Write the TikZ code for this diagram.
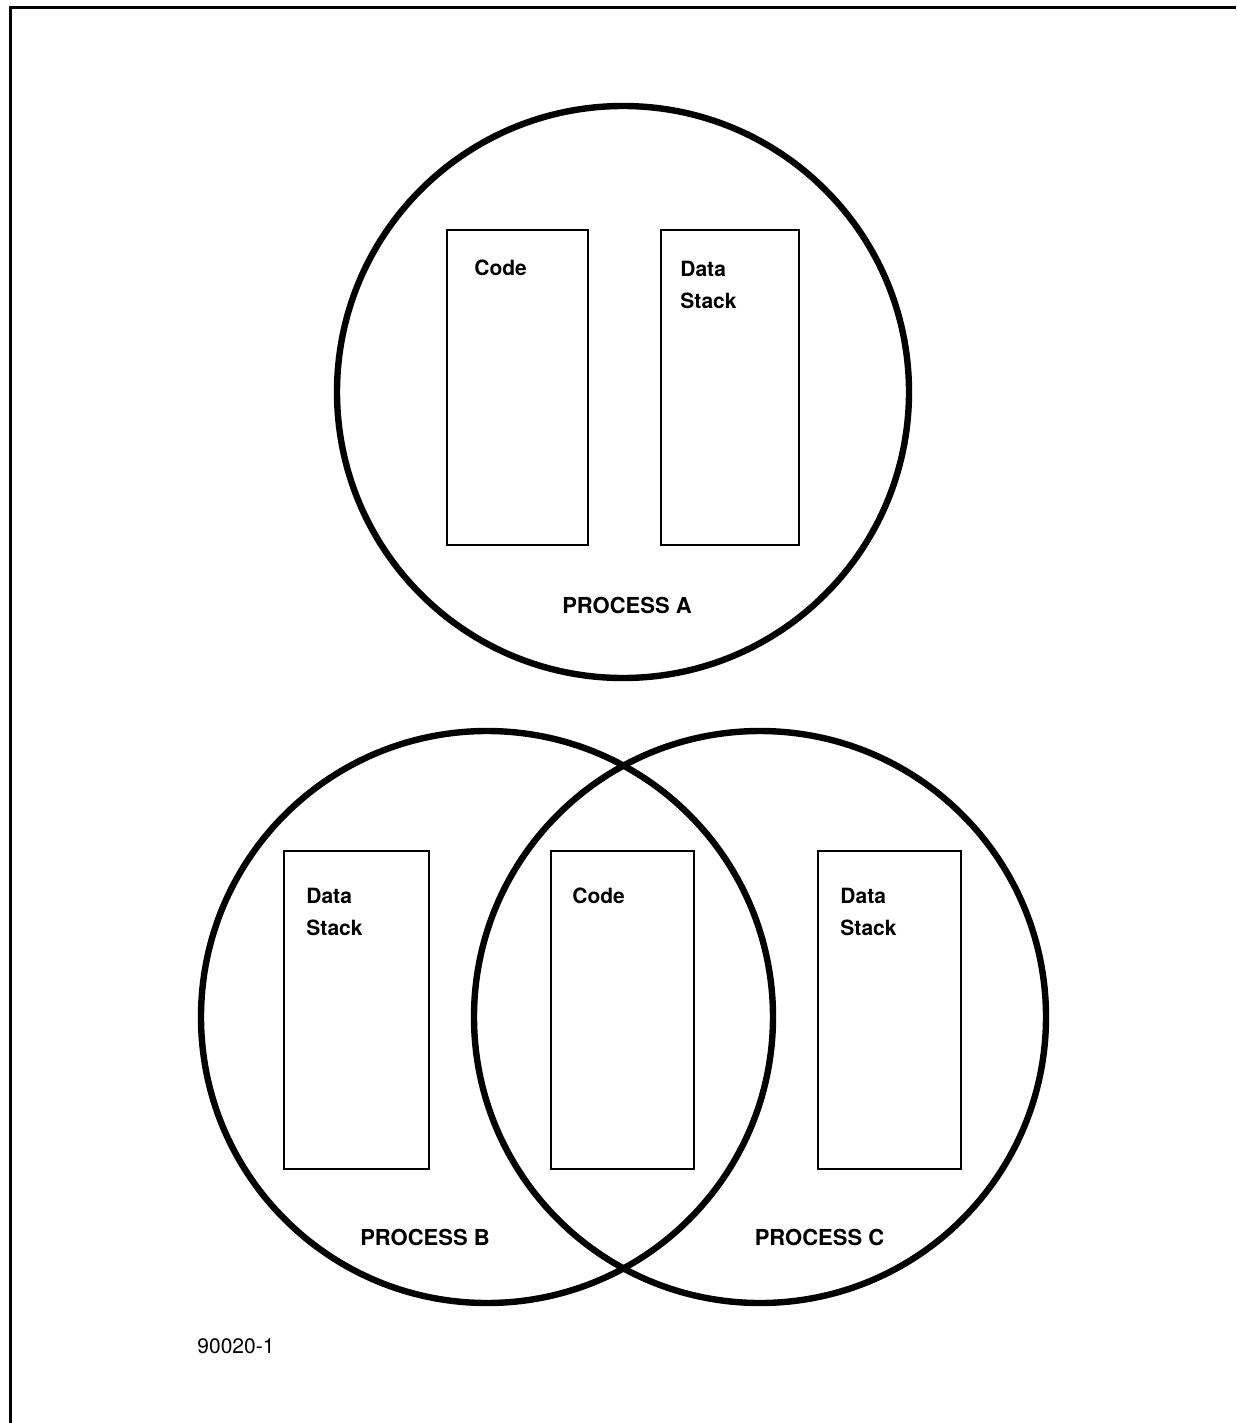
\documentclass[tikz,border=0pt]{standalone}
\usepackage{fontspec}
\setmainfont{TeX Gyre Heros}
\usepackage{tikz}
\usetikzlibrary{positioning}

\begin{document}
\begin{tikzpicture}[x=0.5pt,y=-0.5pt,
    proc/.style={draw,circle,line width=3.2pt,minimum size=286pt,inner sep=0pt},
    seg/.style={draw,rectangle,line width=1pt,inner sep=0pt},
    lbl/.style={font=\bfseries\fontsize{10.5}{16}\selectfont,inner sep=0pt,align=left},
    plbl/.style={font=\bfseries\fontsize{11}{13}\selectfont,inner sep=0pt}]
  \useasboundingbox (0,0) rectangle (1236,1423);
  % frame
  \coordinate (ftl) at (10,8);
  \draw[line width=1.5pt] (10,1423) -- (ftl) -- (1236,8);

  % process A
  \node[proc] (pa) at (623,392) {};
  \node[seg,minimum width=70.5pt,minimum height=157.5pt] (codeA) at (517.5,387.5) {};
  \node[seg,minimum width=69pt,minimum height=157.5pt] (dataA) at (730,387.5) {};
  \node[lbl,anchor=base west] (codeAt) at ([xshift=14pt,yshift=-23.5pt]codeA.north west) {Code};
  \node[lbl,anchor=base west] (dataAt) at ([xshift=10pt,yshift=-39.5pt]dataA.north west) {Data\\Stack};
  \node[plbl,anchor=base] (labA) at (627,613) {PROCESS A};

  % process B and C, shared code
  \node[proc] (pb) at (487,1017) {};
  \node[proc] (pc) at (760,1017) {};
  \node[seg,minimum width=72.5pt,minimum height=159pt] (dataB) at (356.5,1010) {};
  \node[seg,minimum width=71.5pt,minimum height=159pt] (codeBC) at (622.5,1010) {};
  \node[seg,minimum width=71.5pt,minimum height=159pt] (dataC) at (889.5,1010) {};
  \node[lbl,anchor=base west] (dataBt) at ([xshift=11.5pt,yshift=-42.5pt]dataB.north west) {Data\\Stack};
  \node[lbl,anchor=base west] (codeBCt) at ([xshift=11pt,yshift=-26.5pt]codeBC.north west) {Code};
  \node[lbl,anchor=base west] (dataCt) at ([xshift=11.5pt,yshift=-42.5pt]dataC.north west) {Data\\Stack};
  \node[plbl,anchor=base] (labB) at (425,1245) {PROCESS B};
  \node[plbl,anchor=base] (labC) at (819.5,1245) {PROCESS C};

  \node[lbl,font=\fontsize{10.5}{13}\selectfont,anchor=base west] (fig) at (197,1353) {90020-1};
\end{tikzpicture}
\end{document}
